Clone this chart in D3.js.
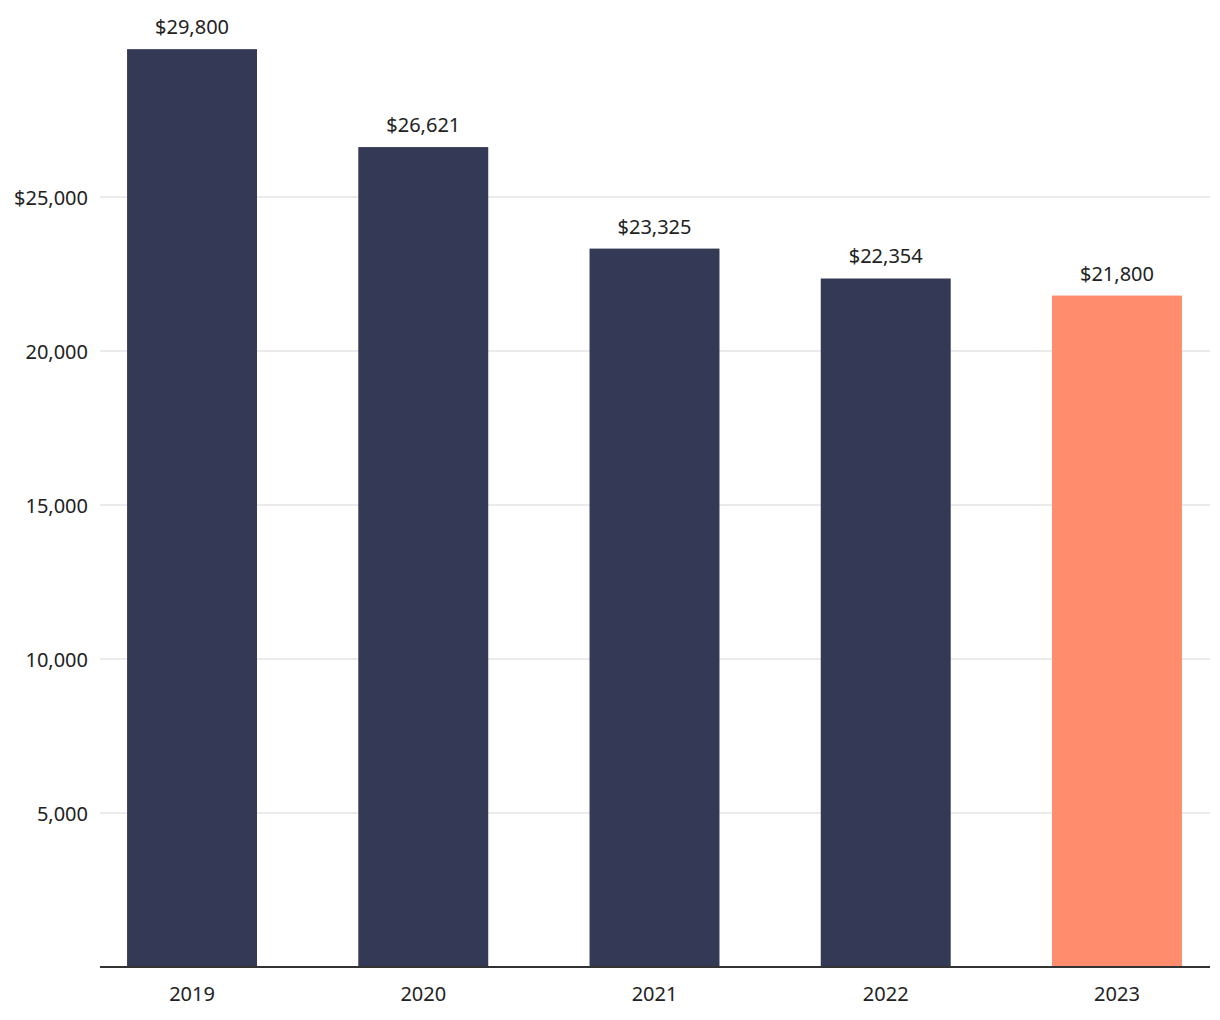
<!DOCTYPE html>
<html>
<head>
<meta charset="utf-8">
<script src="https://cdn.jsdelivr.net/npm/d3@7"></script>
<style>
  body { margin: 0; background: #fff; }
  text { font-family: "Source Sans Pro", "Noto Sans", sans-serif; fill: #222; }
</style>
</head>
<body>
<svg id="chart" width="1220" height="1020"></svg>
<script>
// values
const years = ["2019", "2020", "2021", "2022", "2023"];
const amounts = [29800, 26621, 23325, 22354, 21800];
const highlightYear = "2023";
const yTicks = [5000, 10000, 15000, 20000, 25000];

const svg = d3.select("#chart");
const left = 100, right = 1209, bottom = 967;

const x = d3.scaleBand()
    .domain(years)
    .range([left, right])
    .paddingInner(0.438)
    .paddingOuter(0.117);

const y = d3.scaleLinear()
    .domain([0, 5000])
    .range([bottom, bottom - 154]);

const fmt = d3.format(",");

// gridlines
svg.append("g")
    .selectAll("line")
    .data(yTicks)
    .join("line")
    .attr("x1", left)
    .attr("x2", 1210)
    .attr("y1", d => y(d))
    .attr("y2", d => y(d))
    .attr("stroke", "#e4e4e4")
    .attr("stroke-width", 1.5);

// y tick labels, only the top one carries the $
svg.append("g")
    .selectAll("text")
    .data(yTicks)
    .join("text")
    .attr("x", 88)
    .attr("y", d => y(d) + 1)
    .attr("dy", "0.35em")
    .attr("text-anchor", "end")
    .attr("font-size", 20)
    .text(d => (d === d3.max(yTicks) ? "$" : "") + fmt(d));

// bars
svg.append("g")
    .selectAll("rect")
    .data(years)
    .join("rect")
    .attr("x", d => x(d))
    .attr("width", x.bandwidth())
    .attr("y", (d, i) => y(amounts[i]))
    .attr("height", (d, i) => bottom - y(amounts[i]))
    .attr("fill", d => d === highlightYear ? "#ff8c6d" : "#343a55");

// value labels
svg.append("g")
    .selectAll("text")
    .data(years)
    .join("text")
    .attr("x", d => x(d) + x.bandwidth() / 2)
    .attr("y", (d, i) => y(amounts[i]) - 15)
    .attr("text-anchor", "middle")
    .attr("font-size", 20)
    .text((d, i) => "$" + fmt(amounts[i]));

// x axis
const xAxis = svg.append("g")
    .attr("transform", `translate(0,${bottom})`)
    .call(d3.axisBottom(x).tickSize(0).tickPadding(20));
xAxis.select(".domain")
    .attr("d", `M${left},0H1210`)
    .attr("stroke", "#333")
    .attr("stroke-width", 2);
xAxis.selectAll("text")
    .attr("font-size", 20)
    .attr("fill", "#222");
xAxis.attr("font-family", null);
</script>
</body>
</html>
